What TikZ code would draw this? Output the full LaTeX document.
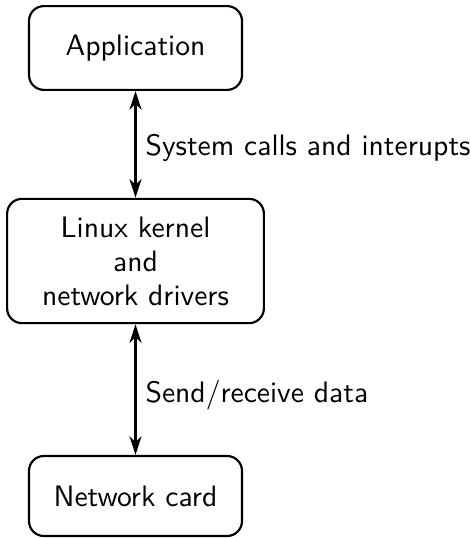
\documentclass[tikz,border=0pt]{standalone}
\usetikzlibrary{arrows.meta,positioning}
\renewcommand{\familydefault}{\sfdefault}
\tikzset{
  blockbox/.style={draw,line width=0.8pt,rounded corners=5.5pt,align=center,
    minimum width=78.8pt,minimum height=31pt,font=\sffamily\fontsize{10.95}{12.6}\selectfont},
  link/.style={line width=0.8pt,{Stealth[length=7pt,width=4.5pt]}-{Stealth[length=7pt,width=4.5pt]}},
  linklabel/.style={font=\sffamily\fontsize{10.95}{12.6}\selectfont}
}
\begin{document}
\begin{tikzpicture}[x=0.37pt,y=-0.37pt]
  \useasboundingbox (0,0) rectangle (470,538);
  % boxes
  \node[blockbox] (app) at (135.5,48) {Application};
  \node[blockbox,minimum width=95pt,minimum height=46pt] (kernel) at (135.5,261)
    {Linux kernel\\ and\\ network drivers};
  \node[blockbox,minimum height=29.6pt] (card) at (135.5,496) {Network card};
  % links
  \draw[link] (app) -- (kernel) node[midway,right,linklabel,yshift=-1.5pt] {System calls and interupts};
  \draw[link] (kernel) -- (card) node[midway,right,linklabel,yshift=-2pt] {Send/receive data};
\end{tikzpicture}
\end{document}
